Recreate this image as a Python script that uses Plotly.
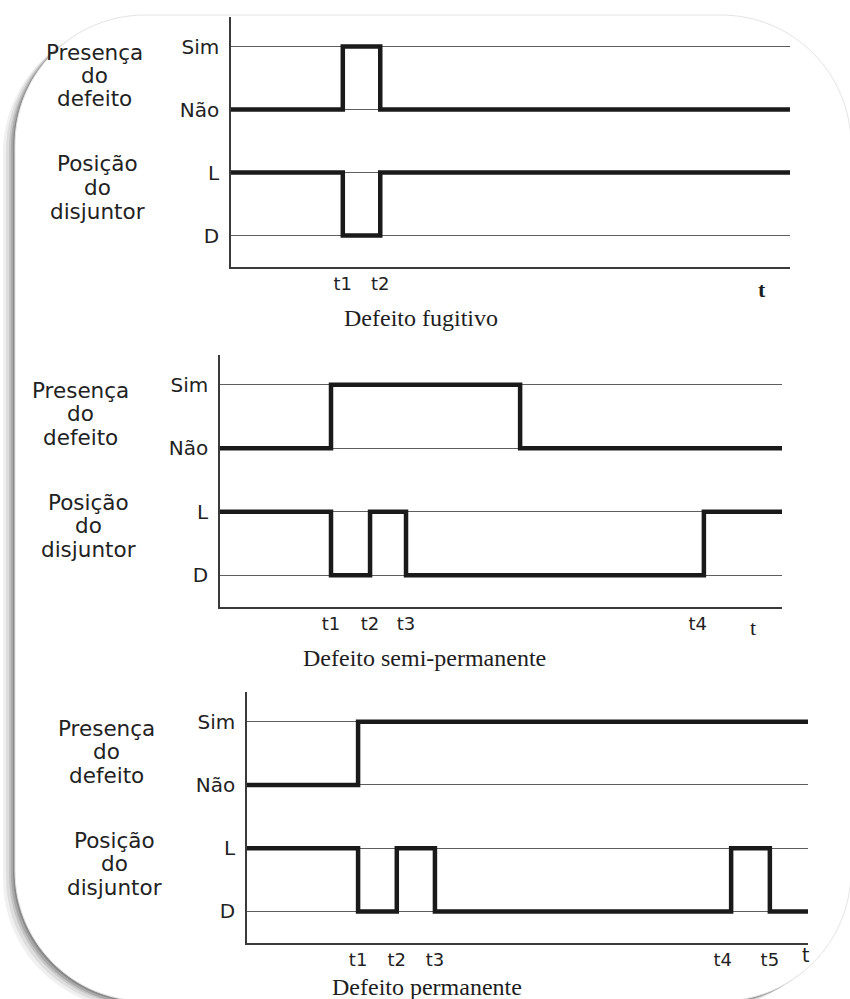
import plotly.graph_objects as go

W, H = 850, 999

# ---------------- data ----------------
level_vals = [0, 1, 2, 3]
level_text = ["D", "L", "Não", "Sim"]

# Panel 1 - Defeito fugitivo
p1_presence_t = [0, 20.0, 26.7, 100]
p1_presence_v = [2, 3, 2, 2]
p1_breaker_t = [0, 20.0, 26.7, 100]
p1_breaker_v = [1, 0, 1, 1]
p1_tick_t = [20.0, 26.7]
p1_tick_lbl = ["t1", "t2"]

# Panel 2 - Defeito semi-permanente
p2_presence_t = [0, 19.75, 53.4, 100]
p2_presence_v = [2, 3, 2, 2]
p2_breaker_t = [0, 19.75, 26.7, 33.1, 86.1, 100]
p2_breaker_v = [1, 0, 1, 0, 1, 1]
p2_tick_t = [19.75, 26.7, 33.1, 85.0]
p2_tick_lbl = ["t1", "t2", "t3", "t4"]

# Panel 3 - Defeito permanente
p3_presence_t = [0, 19.8, 100]
p3_presence_v = [2, 3, 3]
p3_breaker_t = [0, 19.8, 26.7, 33.5, 86.3, 93.2, 100]
p3_breaker_v = [1, 0, 1, 0, 1, 0, 0]
p3_tick_t = [19.8, 26.7, 33.5, 84.8, 93.2]
p3_tick_lbl = ["t1", "t2", "t3", "t4", "t5"]

titles = ["Defeito fugitivo", "Defeito semi-permanente", "Defeito permanente"]
presence_lines = ["Presença", "do", "defeito"]
breaker_lines = ["Posição", "do", "disjuntor"]

# ---------------- layout helpers ----------------
def px(x):
    return x / W

def py(y):
    return 1 - y / H

# pixel boxes for each panel: (left, right, bottom, top)
boxes = [(231, 790, 267, 17), (220, 782, 607, 355), (247, 808, 943, 692)]

SANS = "DejaVu Sans"
SERIF = "Liberation Serif"
INK = "#1a1a1a"
TXT = "#222222"

fig = go.Figure()

panels = [
    (p1_presence_t, p1_presence_v, p1_breaker_t, p1_breaker_v, p1_tick_t, p1_tick_lbl),
    (p2_presence_t, p2_presence_v, p2_breaker_t, p2_breaker_v, p2_tick_t, p2_tick_lbl),
    (p3_presence_t, p3_presence_v, p3_breaker_t, p3_breaker_v, p3_tick_t, p3_tick_lbl),
]

layout = dict(
    width=W, height=H,
    margin=dict(l=0, r=0, t=0, b=0),
    paper_bgcolor="white",
    plot_bgcolor="rgba(0,0,0,0)",
    showlegend=False,
)

for i, (pt, pv, bt, bv, tt, tl) in enumerate(panels):
    n = "" if i == 0 else str(i + 1)
    xa, ya = "x" + n, "y" + n
    for xs, ys in ((pt, pv), (bt, bv)):
        fig.add_trace(go.Scatter(
            x=xs, y=ys, mode="lines", xaxis=xa, yaxis=ya,
            line=dict(color=INK, width=4.5, shape="hv"),
            hoverinfo="skip",
        ))
    l, r, b, t = boxes[i]
    layout["xaxis" + n] = dict(
        domain=[px(l), px(r)], anchor=ya, range=[0, 100],
        showgrid=False, zeroline=False, showline=True,
        linecolor="#3a3a3a", linewidth=1.5,
        tickmode="array", tickvals=tt, ticktext=tl, ticks="",
        tickfont=dict(family=SANS, size=18, color=TXT),
        fixedrange=True,
    )
    layout["yaxis" + n] = dict(
        domain=[py(b), py(t)], anchor=xa, range=[-0.5, 3.47],
        showgrid=True, gridcolor="#5e5e5e", gridwidth=1.2,
        zeroline=False, showline=True, linecolor="#3a3a3a", linewidth=1.5,
        tickmode="array", tickvals=level_vals, ticktext=level_text, ticks="",
        ticklabelstandoff=6,
        tickfont=dict(family=SANS, size=20, color=TXT),
        fixedrange=True,
    )

annotations = []

# left group labels (center x, first line y) in pixels
label_pos = [
    ((94, 52), (97, 164)),
    ((80, 390), (88, 502)),
    ((106, 728), (114, 840)),
]
LINE = 23.5
for (pc, bc) in label_pos:
    for lines, (cx, cy) in ((presence_lines, pc), (breaker_lines, bc)):
        for k, s in enumerate(lines):
            annotations.append(dict(
                x=px(cx), y=py(cy + k * LINE), xref="paper", yref="paper",
                text=s, showarrow=False, xanchor="center", yanchor="middle",
                font=dict(family=SANS, size=21.5, color=TXT),
            ))

# titles
title_pos = [(421, 318), (424, 658), (427, 987)]
for s, (cx, cy) in zip(titles, title_pos):
    annotations.append(dict(
        x=px(cx), y=py(cy), xref="paper", yref="paper", text=s,
        showarrow=False, xanchor="center", yanchor="middle",
        font=dict(family=SERIF, size=24, color="#1e1e1e"),
    ))

# "t" time-axis labels
t_pos = [((762, 289), SERIF, 22, "<b>t</b>"), ((753, 627), SERIF, 22, "t"), ((805, 955), SANS, 19, "t")]
for (cx, cy), fam, sz, s in t_pos:
    annotations.append(dict(
        x=px(cx), y=py(cy), xref="paper", yref="paper", text=s,
        showarrow=False, xanchor="center", yanchor="middle",
        font=dict(family=fam, size=sz, color="#1e1e1e"),
    ))

layout["annotations"] = annotations

# ---------------- decorative rounded card with shadow ----------------
def card_path(l, t, r, b, rad, dx=0, dy=0):
    k = 0.5523 * rad
    l, r, t, b = l + dx, r + dx, t + dy, b + dy
    pts = [
        ("M", [(l + rad, t)]),
        ("L", [(r - rad, t)]),
        ("C", [(r - rad + k, t), (r, t + rad - k), (r, t + rad)]),
        ("L", [(r, b - rad)]),
        ("C", [(r, b - rad + k), (r - rad + k, b), (r - rad, b)]),
        ("L", [(l + rad, b)]),
        ("C", [(l + rad - k, b), (l, b - rad + k), (l, b - rad)]),
        ("L", [(l, t + rad)]),
        ("C", [(l, t + rad - k), (l + rad - k, t), (l + rad, t)]),
    ]
    out = []
    for cmd, ps in pts:
        out.append(cmd + " " + " ".join(f"{px(x):.5f},{py(y):.5f}" for x, y in ps))
    return " ".join(out) + " Z"

shapes = []
CARD = (15, 15, 851, 1001, 130)
for (dx, dy, op) in [(-12, 8, 0.06), (-9, 6, 0.08), (-6, 4, 0.11), (-4, 3, 0.14), (-2, 1.5, 0.18)]:
    shapes.append(dict(type="path", xref="paper", yref="paper",
                       path=card_path(*CARD, dx=dx, dy=dy),
                       fillcolor="black", opacity=op, line=dict(width=0),
                       layer="below"))
shapes.append(dict(type="path", xref="paper", yref="paper",
                   path=card_path(*CARD),
                   fillcolor="white", line=dict(color="#e4e4e4", width=1),
                   layer="below"))
layout["shapes"] = shapes

fig.update_layout(**layout)
fig.write_html("out.html")
